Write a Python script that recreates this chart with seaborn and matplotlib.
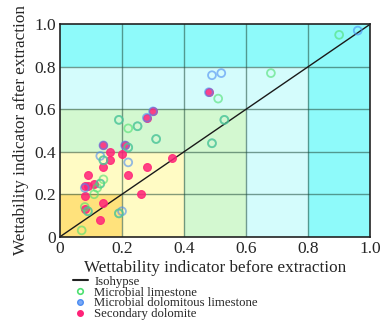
import matplotlib
matplotlib.use("Agg")
import matplotlib.pyplot as plt
from matplotlib.lines import Line2D
from matplotlib.patches import Rectangle
import pandas as pd
import seaborn as sns

# values (before extraction, after extraction)
limestone_x = [0.90, 0.68, 0.51, 0.53, 0.49, 0.19, 0.22, 0.25, 0.31, 0.22, 0.14, 0.14, 0.12, 0.11, 0.08, 0.09, 0.19, 0.07, 0.13]
limestone_y = [0.95, 0.77, 0.65, 0.55, 0.44, 0.55, 0.51, 0.52, 0.46, 0.42, 0.36, 0.27, 0.23, 0.20, 0.14, 0.12, 0.11, 0.03, 0.25]

dolomitous_x = [0.96, 0.49, 0.52, 0.53, 0.49, 0.19, 0.25, 0.31, 0.22, 0.13, 0.22, 0.13, 0.08, 0.20, 0.19, 0.14, 0.21, 0.28, 0.30, 0.48, 0.14, 0.09]
dolomitous_y = [0.97, 0.76, 0.77, 0.55, 0.44, 0.55, 0.52, 0.46, 0.42, 0.38, 0.35, 0.25, 0.23, 0.12, 0.11, 0.43, 0.43, 0.56, 0.59, 0.68, 0.36, 0.12]

dolomite_x = [0.48, 0.28, 0.30, 0.14, 0.21, 0.16, 0.20, 0.16, 0.14, 0.28, 0.36, 0.09, 0.22, 0.11, 0.08, 0.09, 0.26, 0.08, 0.08, 0.14, 0.13]
dolomite_y = [0.68, 0.56, 0.59, 0.43, 0.43, 0.40, 0.39, 0.36, 0.33, 0.33, 0.37, 0.29, 0.29, 0.25, 0.24, 0.24, 0.20, 0.19, 0.13, 0.16, 0.08]

zone_limits = [1.0, 0.8, 0.6, 0.4, 0.2]
zone_colors = ["#8efafa", "#d4fcfc", "#d3f8d0", "#fffbc4", "#ffe27c"]
ticks = [0, 0.2, 0.4, 0.6, 0.8, 1.0]
tick_labels = ["0", "0.2", "0.4", "0.6", "0.8", "1.0"]

sns.set_style("white")
plt.rcParams["font.family"] = ["Liberation Serif", "DejaVu Serif"]

fig = plt.figure(figsize=(3.82, 3.23), dpi=100)
ax = fig.add_axes([0.157, 0.267, 0.812, 0.658])

# nested wettability zones
for lim, col in zip(zone_limits, zone_colors):
    ax.add_patch(Rectangle((0, 0), lim, lim, facecolor=col, edgecolor="none", zorder=0))

for t in ticks[1:-1]:
    ax.axvline(t, color="#1f4a3a", alpha=0.55, lw=1, zorder=1)
    ax.axhline(t, color="#1f4a3a", alpha=0.55, lw=1, zorder=1)

ax.plot([0, 1], [0, 1], color="#1a1a1a", lw=1, zorder=2)

lime = pd.DataFrame({"x": limestone_x, "y": limestone_y})
dolo_lime = pd.DataFrame({"x": dolomitous_x, "y": dolomitous_y})
dolo = pd.DataFrame({"x": dolomite_x, "y": dolomite_y})

sns.scatterplot(data=dolo, x="x", y="y", ax=ax, s=32, color="#ff2278", edgecolor="#ff2278",
                linewidth=0.8, alpha=0.85, zorder=3, legend=False)
sns.scatterplot(data=dolo_lime, x="x", y="y", ax=ax, s=32, facecolor="none", edgecolor="#4a8cf2",
                linewidth=1.3, alpha=0.6, zorder=4, legend=False)
sns.scatterplot(data=lime, x="x", y="y", ax=ax, s=32, facecolor="none", edgecolor="#4de070",
                linewidth=1.3, alpha=0.6, zorder=5, legend=False)

ax.set_xlim(0, 1)
ax.set_ylim(0, 1)
ax.set_xticks(ticks)
ax.set_yticks(ticks)
ax.set_xticklabels(tick_labels, fontsize=12.5)
ax.set_yticklabels(tick_labels, fontsize=12.5)
ax.tick_params(length=0, pad=3)
ax.set_xlabel("Wettability indicator before extraction", fontsize=12.3, labelpad=2)
ax.set_ylabel("Wettability indicator after extraction", fontsize=12.3, labelpad=4)
for sp in ax.spines.values():
    sp.set_color("#222222")
    sp.set_linewidth(1.2)

handles = [
    Line2D([], [], color="#222222", lw=1.5),
    Line2D([], [], marker="o", ls="none", markersize=4, markerfacecolor="none", markeredgecolor="#4de070", markeredgewidth=1.2),
    Line2D([], [], marker="o", ls="none", markersize=4, markerfacecolor="#7aa8f5", markeredgecolor="#4a8cf2"),
    Line2D([], [], marker="o", ls="none", markersize=4, markerfacecolor="#ff2278", markeredgecolor="#ff2278"),
]
labels = ["Isohypse", "Microbial limestone", "Microbial dolomitous limestone", "Secondary dolomite"]
fig.legend(handles, labels, loc="upper left", bbox_to_anchor=(0.19, 0.146), frameon=False,
           fontsize=9.2, handlelength=1.2, handletextpad=0.5, labelspacing=-0.1, borderpad=0,
           borderaxespad=0)

fig.savefig("out.png", dpi=100)
